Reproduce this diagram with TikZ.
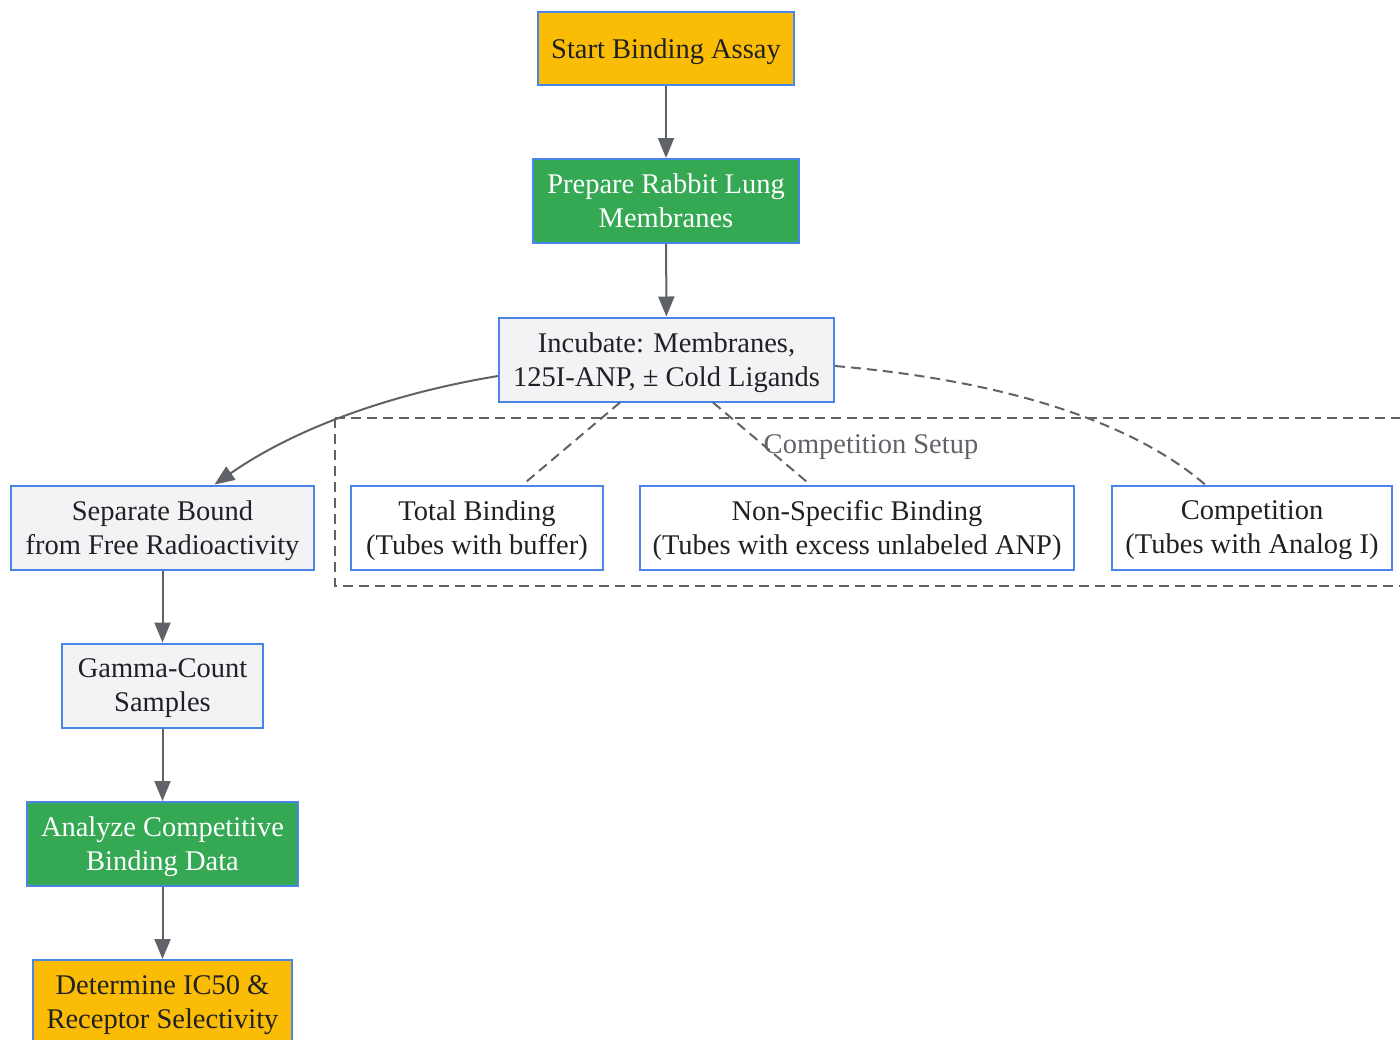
\documentclass[tikz,border=0pt]{standalone}
\usepackage{fontspec}
\setmainfont{Liberation Serif}
\definecolor{edgeblue}{RGB}{74, 134, 232}
\definecolor{startamber}{RGB}{251, 188, 5}
\definecolor{stepgreen}{RGB}{52, 168, 83}
\definecolor{lightgrey}{RGB}{241, 243, 244}
\definecolor{linegrey}{RGB}{95, 99, 104}
\definecolor{inkdark}{RGB}{32, 33, 36}
\usetikzlibrary{arrows.meta, positioning}

\begin{document}
\begin{tikzpicture}[x=0.5pt, y=-0.5pt,
  box/.style={draw=edgeblue, line width=1pt, align=center, inner sep=0pt,
    text=inkdark, text depth=0pt, font=\fontsize{14.25pt}{17pt}\selectfont},
  amberbox/.style={box, fill=startamber},
  greenbox/.style={box, fill=stepgreen, text=white},
  greybox/.style={box, fill=lightgrey},
  whitebox/.style={box, fill=white},
  flow/.style={draw=linegrey, line width=1pt, -{Triangle[length=10pt, width=8pt]}},
  link/.style={draw=linegrey, line width=1pt, dash pattern=on 5pt off 3pt}]
  \useasboundingbox (0,0) rectangle (1400,1039);

  % Competition cluster
  \draw[link] (335,418) rectangle (1420,586);
  \node[text=linegrey, font=\fontsize{14.25pt}{17pt}\selectfont] (setuplabel) at (871,447) {Competition Setup};

  % Main column
  \node[amberbox, minimum width=128pt, minimum height=36.5pt] (start) at (666,48.5) {Start Binding Assay};
  \node[greenbox, minimum width=133pt, minimum height=42pt] (prep) at (666,201) {Prepare Rabbit Lung\\Membranes};
  \node[greybox, minimum width=167.5pt, minimum height=42pt] (incub) at (666.5,359.5) {Incubate: Membranes,\\125I-ANP, ± Cold Ligands};

  % Tube sets
  \node[whitebox, minimum width=126pt, minimum height=42pt] (total) at (477,527.5) {Total Binding\\(Tubes with buffer)};
  \node[whitebox, minimum width=217pt, minimum height=42pt] (nonspec) at (857,527.5) {Non-Specific Binding\\(Tubes with excess unlabeled ANP)};
  \node[whitebox, minimum width=140pt, minimum height=42pt] (comp) at (1252,527.5) {Competition\\(Tubes with Analog I)};

  % Left column
  \node[greybox, minimum width=151.5pt, minimum height=42pt] (sep) at (162.5,527.5) {Separate Bound\\from Free Radioactivity};
  \node[greybox, minimum width=100.5pt, minimum height=42pt] (gamma) at (162.5,685.5) {Gamma-Count\\Samples};
  \node[greenbox, minimum width=135.5pt, minimum height=42pt] (analyze) at (162.5,844) {Analyze Competitive\\Binding Data};
  \node[amberbox, minimum width=129.5pt, minimum height=42pt] (determine) at (162.5,1002) {Determine IC50 \&\\Receptor Selectivity};

  % Arrows
  \draw[flow] (start) -- (prep);
  \draw[flow] (prep) -- (incub);
  \draw[flow] ([yshift=-8.25pt]incub.west) .. controls (400,392) and (300,425) .. ([xshift=26pt]sep.north);
  \draw[flow] (sep) -- (gamma);
  \draw[flow] (gamma) -- (analyze);
  \draw[flow] (analyze) -- (determine);

  % Dashed links to tube sets
  \draw[link] ([xshift=-23.25pt]incub.south) -- ([xshift=23pt]total.north);
  \draw[link] ([xshift=23.25pt]incub.south) -- ([xshift=-23.5pt]nonspec.north);
  \draw[link] ([yshift=-3.25pt]incub.east) .. controls (1000,380) and (1130,420) .. ([xshift=-23.5pt]comp.north);
\end{tikzpicture}
\end{document}
